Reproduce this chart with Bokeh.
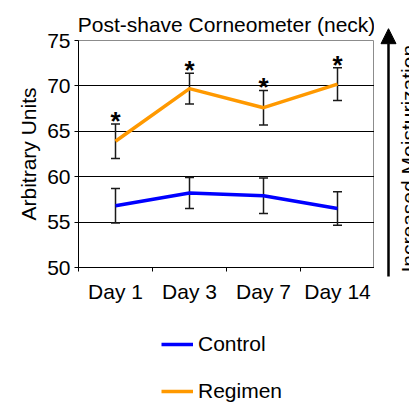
import math
from bokeh.plotting import figure
from bokeh.layouts import row, column
from bokeh.models import (ColumnDataSource, Whisker, TeeHead, FixedTicker, Legend,
                          LegendItem, Arrow, NormalHead, Label)
from bokeh.core.properties import value
from bokeh.embed import file_html
from bokeh.resources import INLINE

# ---- data ----
categories = ["Day 1", "Day 3", "Day 7", "Day 14"]
control_mean = [56.8, 58.2, 57.9, 56.5]
control_err = [1.9, 1.7, 1.95, 1.85]
regimen_mean = [63.9, 69.7, 67.6, 70.2]
regimen_err = [1.9, 1.7, 1.9, 1.8]
series_names = ["Control", "Regimen"]
series_colors = ["#0000FF", "#FF9900"]
y_ticks = [50, 55, 60, 65, 70, 75]
grid_ticks = [55, 60, 65, 70]

FONT = "Liberation Sans"
xs = list(range(1, len(categories) + 1))

ctrl = ColumnDataSource(dict(
    x=xs, y=control_mean,
    lower=[m - e for m, e in zip(control_mean, control_err)],
    upper=[m + e for m, e in zip(control_mean, control_err)]))
reg = ColumnDataSource(dict(
    x=xs, y=regimen_mean,
    lower=[m - e for m, e in zip(regimen_mean, regimen_err)],
    upper=[m + e for m, e in zip(regimen_mean, regimen_err)],
    star=["*"] * len(xs)))

H = 406
FL, FR, FT, FB = 78, 374, 40, 267   # frame edges in page pixels
HP = 320                            # height of the main plot canvas
Y0, Y1 = 50, 75
px_per_unit = (FB - FT) / (Y1 - Y0)

p = figure(width=FR, height=HP, output_backend="svg", toolbar_location=None,
           x_range=(0.5, len(categories) + 0.5), y_range=(Y0, Y1),
           min_border_left=FL, min_border_right=0,
           min_border_top=FT, min_border_bottom=HP - FB,
           title="Post-shave Corneometer (neck)")
p.background_fill_color = "white"
p.border_fill_color = "white"
p.outline_line_color = "#8c8c8c"
p.outline_line_width = 1

p.title.text_font = FONT
p.title.text_font_size = "21px"
p.title.text_font_style = "normal"
p.title.text_color = "black"
p.title.align = "center"
p.title.standoff = 9

# axes
p.xaxis.ticker = FixedTicker(ticks=xs, minor_ticks=[x - 0.5 for x in xs] + [xs[-1] + 0.5])
p.xaxis.major_label_overrides = {x: c for x, c in zip(xs, categories)}
p.xaxis.major_tick_out = 0
p.xaxis.major_tick_in = 0
p.xaxis.minor_tick_out = 4
p.xaxis.minor_tick_in = 0
p.xaxis.major_label_standoff = 8
p.xaxis.major_label_text_font = FONT
p.xaxis.major_label_text_font_size = "21px"
p.xaxis.major_label_text_color = "black"
p.xaxis.axis_line_color = "black"
p.xaxis.minor_tick_line_color = "black"

p.yaxis.ticker = FixedTicker(ticks=y_ticks, minor_ticks=[])
p.yaxis.major_tick_out = 4
p.yaxis.major_tick_in = 0
p.yaxis.major_label_standoff = 4
p.yaxis.major_label_text_font = FONT
p.yaxis.major_label_text_font_size = "21px"
p.yaxis.major_label_text_color = "black"
p.yaxis.axis_label = "Arbitrary Units"
p.yaxis.axis_label_text_font = FONT
p.yaxis.axis_label_text_font_size = "21px"
p.yaxis.axis_label_text_font_style = "normal"
p.yaxis.axis_label_text_color = "black"
p.yaxis.axis_label_standoff = 4
p.yaxis.axis_line_color = "black"
p.yaxis.major_tick_line_color = "black"

p.xgrid.grid_line_color = None
p.ygrid.ticker = FixedTicker(ticks=grid_ticks)
p.ygrid.grid_line_color = "black"
p.ygrid.grid_line_width = 1

# lines
p.line("x", "y", source=ctrl, line_color=series_colors[0], line_width=3.5)
p.line("x", "y", source=reg, line_color=series_colors[1], line_width=3.5)

# error bars
for src in (ctrl, reg):
    p.add_layout(Whisker(source=src, base="x", upper="upper", lower="lower",
                         line_color="#1a1a1a", line_width=1.5,
                         upper_head=TeeHead(size=9, line_color="#1a1a1a", line_width=1.5),
                         lower_head=TeeHead(size=9, line_color="#1a1a1a", line_width=1.5)))

# significance stars
p.text("x", "upper", text="star", source=reg, text_font=value(FONT),
       text_font_size="26px", text_font_style="bold", text_align="center",
       text_baseline="alphabetic", y_offset=-3, text_color="black")

# legend strip below the plot (its frame is aligned with the plot's frame)
LH = H - HP
lg = figure(width=FR, height=LH, output_backend="svg", toolbar_location=None,
            x_range=(0, 1), y_range=(0, 1), min_border=0,
            x_axis_type=None, y_axis_type=None)
lg.outline_line_color = None
lg.grid.grid_line_color = None
items = []
for name, color in zip(series_names, series_colors):
    # off-range stand-in so the legend has a glyph to draw
    r = lg.line(x=[-10, -9], y=[-10, -10], line_color=color, line_width=3.5)
    items.append(LegendItem(label=name, renderers=[r]))
legend = Legend(items=items, location=(83, 3), orientation="vertical",
                padding=0, margin=0, spacing=23,
                glyph_width=32, glyph_height=24, label_height=24,
                label_standoff=5, label_text_font=FONT, label_text_font_size="21px",
                label_text_color="black",
                border_line_alpha=0, background_fill_alpha=0)
lg.add_layout(legend, "center")

# right-side strip with the arrow and its label (same vertical scale as the plot)
AW = 409 - FR
q = figure(width=AW, height=H, output_backend="svg", toolbar_location=None,
           x_range=(0, AW),
           y_range=(Y0 - (H - FB) / px_per_unit, Y1 + FT / px_per_unit),
           min_border=0, x_axis_type=None, y_axis_type=None)
q.outline_line_color = None
q.grid.grid_line_color = None
q.add_layout(Arrow(x_start=14, y_start=49.0, x_end=14, y_end=76.3,
                   line_color="black", line_width=2.5,
                   end=NormalHead(size=15, fill_color="black", line_color="black")))
q.add_layout(Label(x=22, y=49.45, text="Increased Moisturization", angle=math.pi / 2,
                   text_align="left", text_baseline="top", text_font=FONT,
                   text_font_size="21px", text_color="black"))

layout = row(column(p, lg, spacing=0), q, spacing=0)
open("out.html", "w").write(file_html(layout, INLINE))
